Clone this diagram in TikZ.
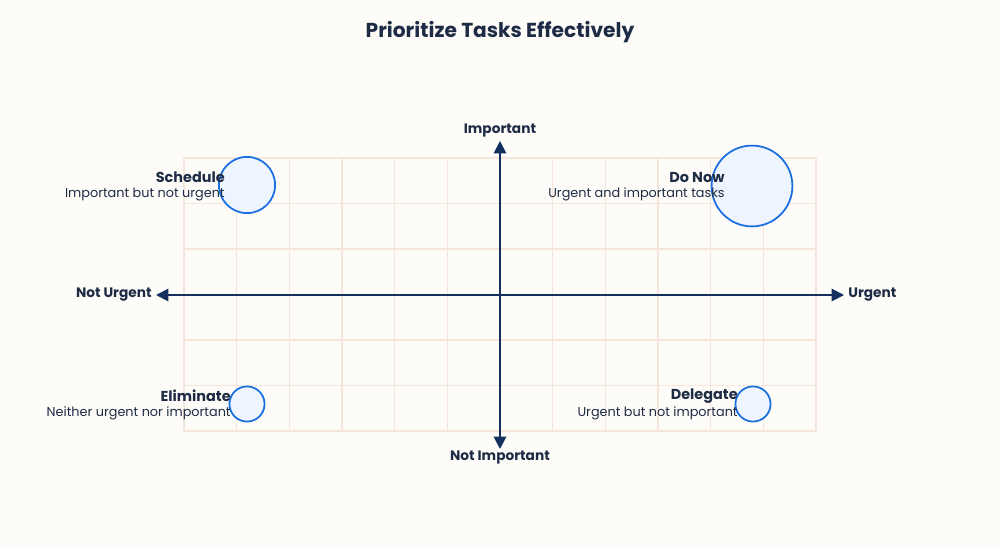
\documentclass[tikz,border=0pt]{standalone}
\usepackage{fontspec}
\setmainfont{Poppins}
\usetikzlibrary{arrows.meta}
\definecolor{ink}{HTML}{1E2B45}
\definecolor{axis}{HTML}{14305E}
\definecolor{gridc}{HTML}{F5E6DC}
\definecolor{ring}{HTML}{1A6FE0}
\definecolor{bubble}{HTML}{EFF5FE}
\definecolor{paper}{HTML}{FDFCF8}
\tikzset{
  head/.style={text=ink,font=\fontsize{8.2}{10}\selectfont\bfseries,anchor=east,inner sep=0pt},
  sub/.style={text=ink,font=\fontsize{7.3}{9}\selectfont,anchor=east,inner sep=0pt},
  axlabel/.style={text=ink,font=\fontsize{7.8}{10}\selectfont\bfseries,inner sep=0pt},
  task/.style={draw=ring,fill=bubble,line width=1pt,circle,inner sep=0pt},
  axisline/.style={draw=axis,line width=1.1pt,-{Triangle[length=7pt,width=7pt]}}
}
\begin{document}
\begin{tikzpicture}[x=0.02cm,y=-0.02cm]
	\path[fill=paper] (0,0) rectangle (1000,548);
	\node[text=ink,font=\fontsize{11.5}{14}\selectfont\bfseries] (title) at (500,32) {Prioritize Tasks Effectively};

	% grid
	\foreach \x in {0,...,12}
		\draw[gridc,line width=0.7pt] ({184+\x*52.67},158) -- ({184+\x*52.67},431);
	\foreach \y in {0,...,6}
		\draw[gridc,line width=0.7pt] (184,{158+\y*45.5}) -- (816,{158+\y*45.5});

	% axes
	\coordinate (o) at (500,295);
	\node[axlabel] (imp) at (500,131) {Important};
	\node[axlabel] (nimp) at (500,458) {Not Important};
	\node[axlabel,anchor=east] (nurg) at (152,295) {Not Urgent};
	\node[axlabel,anchor=west] (urg) at (848,295) {Urgent};
	\draw[axisline] (o) -- (500,141);
	\draw[axisline] (o) -- (500,449);
	\draw[axisline] (o) -- (156,295);
	\draw[axisline] (o) -- (844,295);

	% quadrants
	\node[task,minimum size=46\pgflinewidth] (donow) at (752,186) {};
	\node[head] (donowh) at (725,177) {Do Now};
	\node[sub] (donows) at (725,194) {Urgent and important tasks};

	\node[task,minimum size=32\pgflinewidth] (sched) at (247,185) {};
	\node[head] (schedh) at (225,177) {Schedule};
	\node[sub] (scheds) at (225,194) {Important but not urgent};

	\node[task,minimum size=20\pgflinewidth] (elim) at (247,404) {};
	\node[head] (elimh) at (231,396) {Eliminate};
	\node[sub] (elims) at (231,413) {Neither urgent nor important};

	\node[task,minimum size=20\pgflinewidth] (deleg) at (753,404) {};
	\node[head] (delegh) at (738,396) {Delegate};
	\node[sub] (delegs) at (738,413) {Urgent but not important};
\end{tikzpicture}
\end{document}
